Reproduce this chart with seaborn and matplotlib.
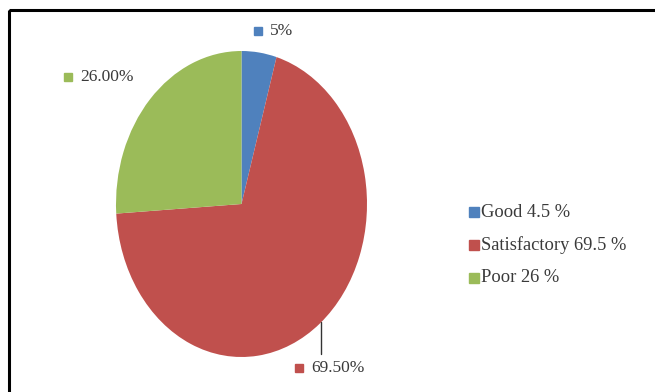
import matplotlib
matplotlib.use("Agg")
import matplotlib.pyplot as plt
import seaborn as sns
from matplotlib.patches import Rectangle

categories = ["Good", "Satisfactory", "Poor"]
legend_values = ["4.5 %", "69.5 %", "26 %"]
shares = [4.5, 69.5, 26.0]
slice_labels = ["5%", "69.50%", "26.00%"]
colors = ["#4F81BD", "#C0504D", "#9BBB59"]

sns.set_theme(style="white")
plt.rcParams["font.family"] = ["Liberation Serif", "DejaVu Serif"]
text_color = "#3a3a3a"

W, H = 655, 392
fig = plt.figure(figsize=(W / 100, H / 100), dpi=100)

# pie is drawn as a stretched ellipse: 116..367 px wide, 51..357 px tall
pie_ax = fig.add_axes([116 / W, 1 - 357 / H, 251 / W, 306 / H])
wedges, _ = pie_ax.pie(shares, colors=colors, startangle=90, counterclock=False,
                       wedgeprops=dict(linewidth=0))
pie_ax.set_aspect("auto")
pie_ax.set_xlim(-1, 1)
pie_ax.set_ylim(-1, 1)
pie_ax.axis("off")

# overlay in pixel coordinates for border and labels
ov = fig.add_axes([0, 0, 1, 1], zorder=3)
ov.set_xlim(0, W)
ov.set_ylim(H, 0)
ov.axis("off")
ov.patch.set_alpha(0)
ov.add_patch(Rectangle((9, 10), 700, 400, fill=False, edgecolor="black", linewidth=2.2))

label_pos = [(258, 31), (299, 368), (68, 77)]
for (x, y), lab, c in zip(label_pos, slice_labels, colors):
    ov.plot(x, y, marker="s", markersize=6, color=c, linestyle="none")
    ov.text(x + 12, y, lab, fontsize=12.5, color=text_color, va="center", ha="left")

# leader line for the big slice
ov.plot([321, 321], [322, 354], color="#333333", linewidth=1)

# legend
leg_y = [212, 245, 278]
for y, cat, val, c in zip(leg_y, categories, legend_values, colors):
    ov.plot(474, y, marker="s", markersize=7, color=c, linestyle="none")
    ov.text(481, y, f"{cat} {val}", fontsize=13.3, color=text_color, va="center", ha="left")

fig.savefig("out.png", dpi=100)
